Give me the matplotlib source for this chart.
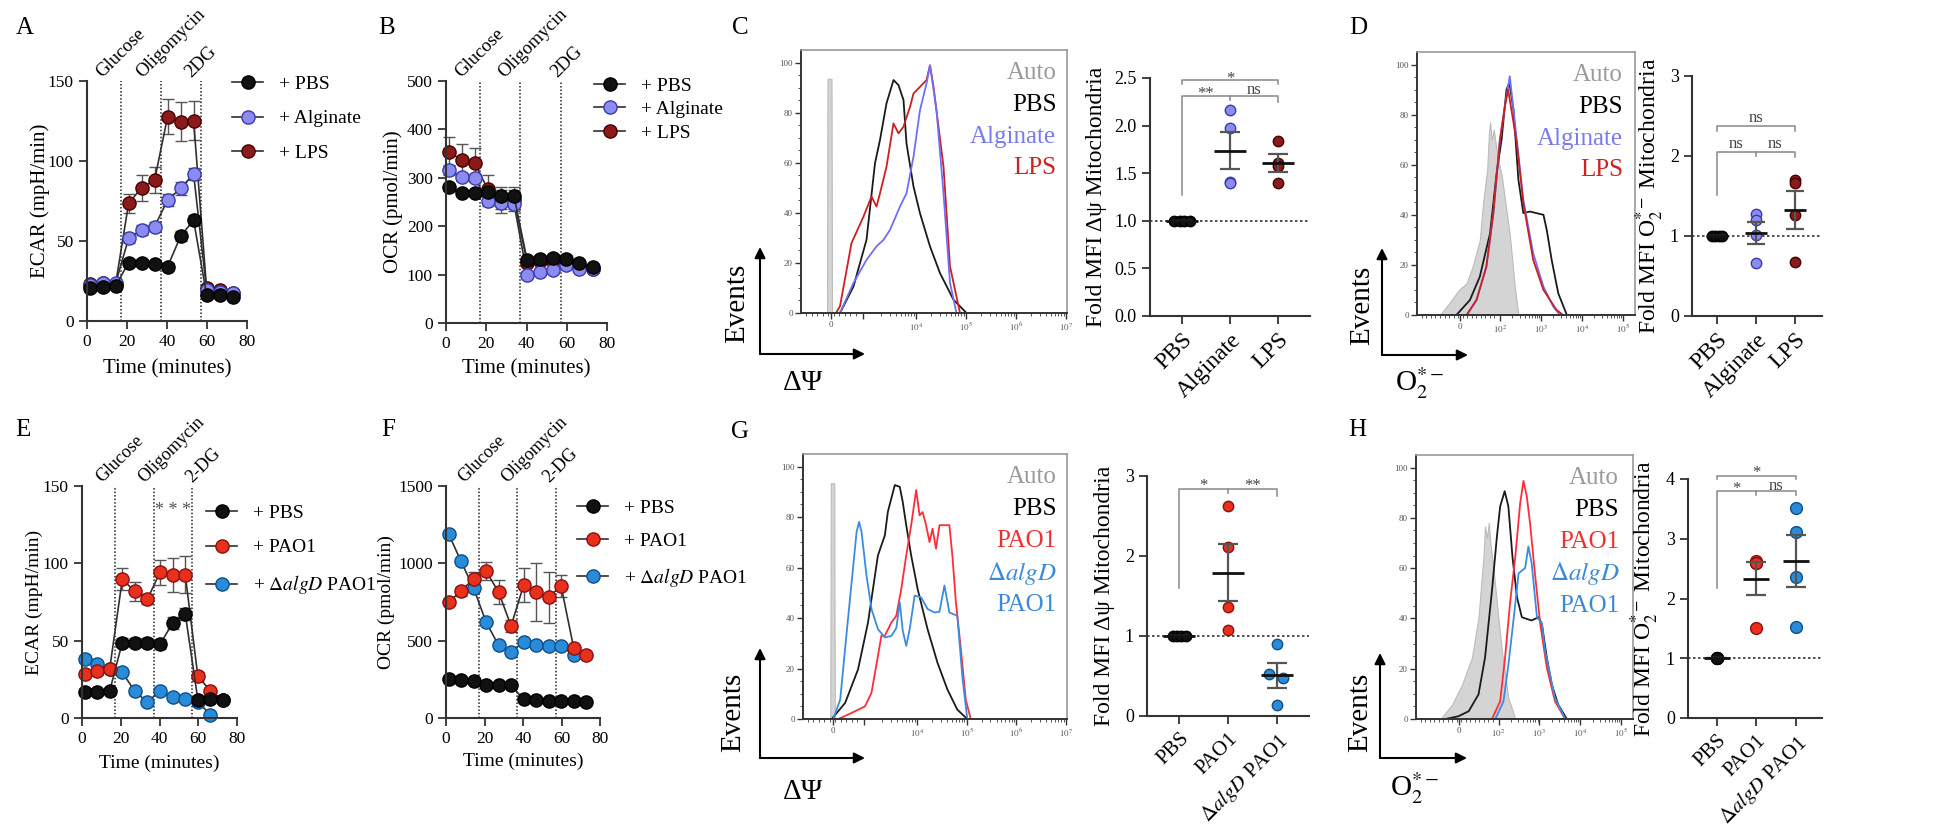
# -*- coding: utf-8 -*-
"""Mitochondrial metabolism figure, panels A-H"""

import numpy as np
import matplotlib
matplotlib.use("Agg")
import matplotlib.pyplot as plt
from matplotlib.lines import Line2D
from matplotlib.patches import FancyArrowPatch

W, H = 1952, 835

# ---------- Seahorse time courses ----------
time_min = [1.3, 7.8, 14.3, 20.8, 27.3, 33.8, 40.3, 46.8, 53.3, 59.8, 66.3, 72.8]
injection_times = [17, 37, 57]
injections_ab = ["Glucose", "Oligomycin", "2DG"]
injections_ef = ["Glucose", "Oligomycin", "2-DG"]

ecar_pbs = [20.4, 21, 21.9, 36.5, 36.5, 35.6, 34, 53, 63, 16.3, 16.3, 15.2]
ecar_pbs_err = [2, 2, 2, 2, 2, 2, 2, 3, 3, 2, 2, 2]
ecar_alg = [22.5, 23.5, 23.5, 51.7, 56.9, 59, 75.6, 82.9, 91.9, 19.4, 18.3, 17.3]
ecar_alg_err = [2, 2, 2, 3, 3, 3, 4, 4, 4, 2, 2, 2]
ecar_lps = [23, 23.5, 23, 73.5, 83.3, 88.1, 127.7, 124.6, 125.2, 20.4, 19.4, 17.3]
ecar_lps_err = [2, 2, 2, 6, 8, 8, 11, 12, 12, 2, 2, 2]

ocr_pbs = [280, 269, 269, 271, 262, 262, 130, 133, 134, 133, 123, 116]
ocr_pbs_err = [8, 6, 6, 10, 20, 20, 8, 8, 8, 8, 6, 6]
ocr_alg = [316, 301, 299, 252, 247, 246, 99, 105, 109, 119, 112, 112]
ocr_alg_err = [10, 8, 8, 10, 20, 15, 6, 6, 6, 6, 6, 6]
ocr_lps = [354, 337, 330, 276, 255, 255, 125, 128, 128, 128, 118, 112]
ocr_lps_err = [30, 32, 32, 30, 20, 20, 8, 8, 8, 8, 6, 6]

ecar2_pbs = [16.8, 16.8, 17.6, 48.8, 48.8, 48.8, 47.8, 61.3, 67.4, 11.8, 12.5, 11.8]
ecar2_pbs_err = [2, 2, 2, 3, 3, 3, 3, 4, 4, 2, 2, 2]
ecar2_pao1 = [28.4, 30.1, 31.8, 89.7, 81.8, 77, 94.3, 92.5, 92.5, 26.9, 17.6, 11.8]
ecar2_pao1_err = [2, 2, 2, 7, 6, 3, 8, 11, 12, 3, 2, 2]
ecar2_dalg = [38.1, 34.9, 31.8, 29.5, 17.2, 10.3, 17.6, 13.6, 12.3, 10.3, 2.2, np.nan]
ecar2_dalg_err = [2, 2, 2, 2, 2, 2, 2, 2, 2, 2, 2, np.nan]

ocr2_pbs = [254, 243, 239, 216, 216, 211, 121, 114, 110, 108, 108, 103]
ocr2_pbs_err = [10, 10, 10, 10, 10, 10, 8, 8, 8, 8, 8, 8]
ocr2_pao1 = [750, 819, 901, 950, 815, 595, 858, 815, 782, 853, 455, 405]
ocr2_pao1_err = [20, 30, 45, 60, 75, 40, 110, 190, 165, 70, 20, 15]
ocr2_dalg = [1192, 1013, 841, 621, 470, 427, 491, 470, 463, 463, 409, np.nan]
ocr2_dalg_err = [20, 20, 20, 15, 15, 15, 15, 15, 15, 15, 15, np.nan]

# ---------- flow histograms (x in decade units of the biexponential axis) ----------
c_auto_x = [2.22, 2.23, 2.31, 2.32]
c_auto_y = [0, 93.5, 93.5, 0]
c_pbs_x = [2.48, 2.75, 3.01, 3.18, 3.28, 3.41, 3.55, 3.65, 3.75, 3.81, 3.95, 4.08, 4.28, 4.48, 4.75, 5.01]
c_pbs_y = [0, 10.6, 29.2, 59.8, 69.1, 83.7, 93, 91, 85, 67.7, 50.5, 39.8, 26.6, 15.9, 5.3, 0]
c_alg_x = [2.48, 2.75, 3.01, 3.21, 3.35, 3.48, 3.68, 3.81, 3.95, 4.08, 4.21, 4.28, 4.41, 4.55, 4.68, 4.81]
c_alg_y = [0, 12, 21.2, 26.6, 29.2, 33.2, 42.5, 47.8, 62.4, 81, 91.6, 98.9, 81, 47.8, 12, 0]
c_lps_x = [2.40, 2.48, 2.71, 2.95, 3.11, 3.21, 3.28, 3.41, 3.55, 3.65, 3.75, 3.88, 3.95, 4.08,
           4.21, 4.28, 4.35, 4.55, 4.68, 4.88]
c_lps_y = [0, 2.7, 27.9, 38.5, 46.5, 42.5, 47.8, 58.4, 75.7, 71.7, 74.4, 82.3, 87.6, 90.3,
           93, 98.9, 90.3, 58.4, 18.6, 0]

d_auto_x = [0.54, 0.78, 1.0, 1.19, 1.35, 1.51, 1.59, 1.69, 1.73, 1.76, 1.80, 1.85, 1.90, 1.96,
            2.04, 2.24, 2.37, 2.45]
d_auto_y = [0, 5, 10, 12.7, 20, 30, 45, 58, 72, 77, 70, 74, 68, 62, 56, 32, 10, 0]
d_pbs_x = [0.94, 1.27, 1.51, 1.76, 1.92, 2.04, 2.16, 2.23, 2.33, 2.45, 2.57, 2.73, 3.06, 3.14,
           3.26, 3.42, 3.63]
d_pbs_y = [0, 6, 15.3, 32.7, 56.7, 70, 90, 92.7, 82, 54, 40.7, 41.3, 40, 34, 22, 8.7, 0]
d_alg_x = [1.19, 1.43, 1.67, 1.84, 2.0, 2.12, 2.24, 2.41, 2.57, 2.81, 3.06, 3.3, 3.46]
d_alg_y = [0, 6, 19.3, 40.7, 70, 83.3, 95.3, 70, 46, 24.7, 11.3, 3.3, 0]
d_lps_x = [1.19, 1.43, 1.67, 1.84, 2.0, 2.12, 2.2, 2.41, 2.57, 2.81, 3.06, 3.38, 3.54]
d_lps_y = [0, 6, 19.3, 40.7, 70, 83.3, 90, 68.7, 44.7, 22, 10, 2, 0]

g_auto_x = [2.25, 2.26, 2.33, 2.34]
g_auto_y = [0, 93.4, 93.4, 0]
g_pbs_x = [2.28, 2.55, 2.81, 3.01, 3.21, 3.35, 3.41, 3.55, 3.65, 3.71, 3.78, 3.88, 4.01, 4.21,
           4.41, 4.61, 4.81, 5.01]
g_pbs_y = [0, 6.4, 19.7, 38.2, 64.8, 72.8, 82.1, 92.7, 92, 86, 76.8, 64.8, 51.5, 35.6, 22.3,
           11.7, 3.7, 0]
g_pao1_x = [2.41, 2.68, 2.95, 3.08, 3.21, 3.28, 3.35, 3.48, 3.58, 3.68, 3.78, 3.88, 3.98, 4.05,
            4.11, 4.18, 4.25, 4.31, 4.38, 4.45, 4.55, 4.65, 4.71, 4.78, 4.88, 4.98, 5.08]
g_pao1_y = [0, 2.4, 5, 10.4, 25, 33, 33, 38.2, 40.9, 51.5, 64.8, 76.8, 90.7, 80.7,
            82, 76.8, 70.1, 75.4, 67.5, 76.8, 76.8, 76.8, 64.8, 46.5, 27.9, 7.7, 0]
g_dalg_x = [2.31, 2.45, 2.58, 2.68, 2.78, 2.83, 2.88, 2.98, 3.08, 3.21, 3.35, 3.48, 3.58, 3.65,
            3.71, 3.78, 3.85, 3.95, 4.08, 4.21, 4.35, 4.45, 4.55, 4.65, 4.81, 4.91, 5.01]
g_dalg_y = [0, 7.7, 34.3, 54.2, 74.1, 78.1, 74.1, 56.8, 43.6, 35.6, 32.3, 32.9, 36, 46.2,
            35, 29, 35.6, 48.9, 48.2, 43.6, 42.2, 42.5, 52.9, 42.2, 40.9, 17, 0]

h_auto_x = [0.58, 0.86, 1.11, 1.35, 1.51, 1.63, 1.67, 1.72, 1.76, 1.80, 1.88, 1.96, 2.08, 2.24, 2.41]
h_auto_y = [0, 5.7, 13.8, 24.5, 40.5, 64.6, 76.6, 72, 78, 70, 59.2, 45.9, 27.1, 8.4, 0]
h_pbs_x = [0.7, 1.02, 1.27, 1.51, 1.67, 1.84, 1.96, 2.04, 2.15, 2.24, 2.34, 2.45, 2.57, 2.69,
           2.81, 2.98, 3.06, 3.18, 3.3, 3.46, 3.67]
h_pbs_y = [0, 1.1, 3.1, 9.8, 24.5, 51.2, 72.6, 84.6, 90.6, 84.6, 64.6, 48.5, 40.5, 39.8,
           39.2, 40.5, 37.8, 24.5, 13.8, 5.7, 0]
h_pao1_x = [1.84, 2.04, 2.16, 2.28, 2.41, 2.53, 2.61, 2.69, 2.77, 2.89, 3.02, 3.18, 3.38, 3.63]
h_pao1_y = [0, 7.1, 24.5, 45.9, 64.6, 86, 94.7, 88.6, 78, 57.9, 37.8, 20.5, 7.1, 0]
h_dalg_x = [1.92, 2.12, 2.24, 2.37, 2.49, 2.57, 2.65, 2.73, 2.81, 2.94, 3.06, 3.14, 3.38, 3.63]
h_dalg_y = [0, 7, 21.4, 40, 57.9, 59, 60, 68.6, 62, 40.5, 38, 27, 8.4, 0]

# ---------- fold MFI dot plots ----------
cats_lps = ["PBS", "Alginate", "LPS"]
cats_pao = ["PBS", "PAO1", r"$\mathit{\Delta algD}$ PAO1"]
c_vals = [[1, 1, 1, 1], [2.16, 1.97, 1.41, 1.40], [1.84, 1.61, 1.58, 1.40]]
d_vals = [[1, 1, 1, 1], [1.28, 1.20, 1.01, 0.66], [1.70, 1.66, 1.26, 0.68]]
g_vals = [[1, 1, 1, 1], [2.63, 2.11, 1.36, 1.07], [0.90, 0.52, 0.47, 0.14]]
h_vals = [[1, 1, 1, 1], [2.62, 2.60, 2.60, 1.50], [3.51, 3.12, 2.36, 1.53]]

# colours
BLACK = ("#111111", "#000000")
ALG = ("#8c8cf0", "#3a3ab0")
LPS = ("#8b1a1a", "#4a0000")
PAO = ("#e8301c", "#8b1010")
DALG = ("#2a8bd8", "#0e4f8a")


def rect(l, t, r, b):
    """pixel box -> figure fraction"""
    return [l / W, 1 - b / H, (r - l) / W, (b - t) / H]


def setup_style():
    plt.rcParams["font.family"] = ["Liberation Serif", "DejaVu Serif"]
    plt.rcParams["mathtext.fontset"] = "stix"
    plt.rcParams["axes.linewidth"] = 1.4
    plt.rcParams["xtick.major.width"] = 1.3
    plt.rcParams["ytick.major.width"] = 1.3


def prism_axes(ax):
    for s in ["top", "right"]:
        ax.spines[s].set_visible(False)
    for s in ["left", "bottom"]:
        ax.spines[s].set_color("#333333")
        ax.spines[s].set_linewidth(1.5)
    ax.tick_params(direction="out", length=6, color="#333333")


def timecourse(fig, ax, groups, ymax, ystep, ylabel, ylab_x, xlab_y, inj, inj_dx,
               leg_xy, leg_space, tick_fs=12.5, lab_fs=15, inj_fs=13.5):
    for name, vals, errs, col in reversed(groups):
        ax.errorbar(time_min, vals, yerr=errs, color="#303030", lw=1.2, ecolor="#555555",
                    elinewidth=1.0, capsize=4, capthick=1.0, marker="o", ms=9.5,
                    mfc=col[0], mec=col[1], mew=1.0, clip_on=False)
    ax.vlines(injection_times, 0, ymax, colors="#222222", linestyles=(0, (1, 1.3)), lw=1.1)
    for x, lab, dx in zip(injection_times, inj, inj_dx):
        ax.text(x + dx, ymax, lab, rotation=45, ha="center", va="bottom", fontsize=inj_fs)
    ax.set_xlim(0, 80)
    ax.set_ylim(0, ymax)
    ax.set_xticks(range(0, 81, 20))
    ax.set_yticks(np.arange(0, ymax + 1, ystep))
    ax.tick_params(labelsize=tick_fs)
    prism_axes(ax)
    ax.set_ylabel(ylabel, fontsize=lab_fs)
    ax.yaxis.set_label_coords(ylab_x, 0.5)
    ax.set_xlabel("Time (minutes)", fontsize=lab_fs)
    ax.xaxis.set_label_coords(0.5, xlab_y)
    handles = [Line2D([0], [0], color="#303030", lw=1.2, marker="o", ms=9.5,
                      mfc=c[0], mec=c[1]) for _, _, _, c in groups]
    labels = ["+ " + g[0] for g in groups]
    ax.legend(handles, labels, loc="upper left", bbox_to_anchor=(leg_xy[0] / W, 1 - leg_xy[1] / H),
              bbox_transform=fig.transFigure, frameon=False, borderpad=0, borderaxespad=0,
              handlelength=1.6, handletextpad=0.8, labelspacing=leg_space, fontsize=14)


def histogram(ax, auto, curves, xlim, majors, major_labels, minors, legend, leg_x):
    ax.fill_between(auto[0], auto[1], color="#d4d4d4", ec="#bbbbbb", lw=0.8, zorder=1)
    for x, y, c in curves:
        ax.plot(x, y, color=c, lw=1.3, zorder=2)
    ax.set_xlim(xlim)
    ax.set_ylim(0, 105)
    ax.set_yticks(range(0, 101, 20))
    ax.set_yticks(range(0, 101, 5), minor=True)
    ax.set_xticks(majors)
    ax.set_xticklabels(major_labels)
    ax.set_xticks(minors, minor=True)
    ax.tick_params(which="major", length=4, width=1.0, labelsize=6.5, labelcolor="#555555",
                   color="#333333", pad=2)
    ax.tick_params(which="minor", length=2.2, width=0.7, color="#555555")
    for s in ["left", "bottom"]:
        ax.spines[s].set_color("#333333")
        ax.spines[s].set_linewidth(1.4)
    for s in ["top", "right"]:
        ax.spines[s].set_color("#999999")
        ax.spines[s].set_linewidth(1.2)
    for i, (txt, c) in enumerate(legend):
        ax.text(leg_x, 0.913 - i * 0.121, txt, transform=ax.transAxes, ha="right", va="center",
                color=c, fontsize=18)


def dotplot(ax, cats, vals, cols, jitter, ymax, yticks, ytick_labels, ylabel, ylab_x, xlim,
            brackets, marks, ms=7.5, half=0.33, xfs=17):
    ax.axhline(1, color="#333333", lw=1.2, ls=(0, (1.5, 1.5)), zorder=1, clip_on=False)
    for i, (v, c, jit) in enumerate(zip(vals, cols, jitter)):
        v = np.asarray(v, float)
        m = v.mean()
        sem = v.std(ddof=1) / np.sqrt(len(v))
        ax.plot(i + np.asarray(jit), v, "o", ms=ms, mfc=c[0], mec=c[1], mew=1.0, zorder=3,
                clip_on=False)
        ax.errorbar(i, m, yerr=sem, color="#555555", lw=1.6, capsize=half * 22, capthick=1.6,
                    zorder=4, clip_on=False)
        ax.hlines(m, i - half, i + half, color="#111111", lw=2.0, zorder=5)
    for x0, x2, y, l_leg, r_leg, mid in brackets:
        ax.plot([x0, x0, x2, x2], [l_leg, y, y, r_leg], color="#888888", lw=1.1, clip_on=False)
        if mid is not None:
            ax.plot([1, 1], [y, mid], color="#888888", lw=1.1, clip_on=False)
    for x, y, s in marks:
        ax.text(x, y, s, ha="center", va="baseline", fontsize=12, color="#444444")
    ax.set_xlim(xlim)
    ax.set_ylim(0, ymax)
    ax.set_xticks(range(len(cats)))
    ax.set_xticklabels(cats, rotation=45, ha="right", rotation_mode="anchor", fontsize=xfs)
    ax.set_yticks(yticks)
    ax.set_yticklabels(ytick_labels, fontsize=13)
    prism_axes(ax)
    ax.set_ylabel(ylabel, fontsize=17)
    ax.yaxis.set_label_coords(ylab_x, 0.5)


def flow_labels(fig, corner, top, right, events_xy, xlabel, xlabel_xy):
    x0, y0 = corner
    for end in [(x0, top), (right, y0)]:
        fig.add_artist(FancyArrowPatch((x0 / W, 1 - y0 / H), (end[0] / W, 1 - end[1] / H),
                                       transform=fig.transFigure, arrowstyle="-|>",
                                       mutation_scale=16, lw=1.5, color="black",
                                       shrinkA=0, shrinkB=0))
    fig.text(events_xy[0] / W, 1 - events_xy[1] / H, "Events", rotation=90, ha="center",
             va="center", fontsize=21)
    fig.text(xlabel_xy[0] / W, 1 - xlabel_xy[1] / H, xlabel, ha="center", va="center", fontsize=21)


def main():
    setup_style()
    fig = plt.figure(figsize=(W / 100, H / 100), dpi=100)

    # A / B : alginate & LPS
    ax = fig.add_axes(rect(87, 81, 247, 321))
    timecourse(fig, ax, [("PBS", ecar_pbs, ecar_pbs_err, BLACK),
                         ("Alginate", ecar_alg, ecar_alg_err, ALG),
                         ("LPS", ecar_lps, ecar_lps_err, LPS)],
               150, 50, "ECAR (mpH/min)", -0.23, -0.16, injections_ab, [0, 5, 0],
               (232, 75), 0.88)
    ax = fig.add_axes(rect(446, 81, 607, 323))
    timecourse(fig, ax, [("PBS", ocr_pbs, ocr_pbs_err, BLACK),
                         ("Alginate", ocr_alg, ocr_alg_err, ALG),
                         ("LPS", ocr_lps, ocr_lps_err, LPS)],
               500, 100, "OCR (pmol/min)", -0.267, -0.15, injections_ab, [0, 6, 3],
               (594, 77), 0.3)

    # E / F : PAO1 strains
    ax = fig.add_axes(rect(82, 486, 237, 718))
    timecourse(fig, ax, [("PBS", ecar2_pbs, ecar2_pbs_err, BLACK),
                         ("PAO1", ecar2_pao1, ecar2_pao1_err, PAO),
                         (r"$\mathit{\Delta algD}$ PAO1", ecar2_dalg, ecar2_dalg_err, DALG)],
               150, 50, "ECAR (mpH/min)", -0.25, -0.16,
               injections_ef, [2.5, 9, 6], (206, 504), 0.88, lab_fs=14, inj_fs=13)
    ax.text(47, 131, "* * *", ha="center", va="baseline", fontsize=13, color="#555555")
    ax = fig.add_axes(rect(446, 486, 600, 718))
    timecourse(fig, ax, [("PBS", ocr2_pbs, ocr2_pbs_err, BLACK),
                         ("PAO1", ocr2_pao1, ocr2_pao1_err, PAO),
                         (r"$\mathit{\Delta algD}$ PAO1", ocr2_dalg, ocr2_dalg_err, DALG)],
               1500, 500, "OCR (pmol/min)", -0.33, -0.15, injections_ef, [1.5, 9, 2.6],
               (577, 499), 0.82, lab_fs=14, inj_fs=13)

    # flow histograms
    dec = [d + np.log10(k) for d in range(3, 7) for k in range(2, 10)]
    minors_hi = list(np.arange(1.8, 2.9, 0.11)) + [m for m in dec if m < 7.02]
    majors_hi = [2.3, 2.93, 4, 5, 6, 7]
    labels_hi = ["0", "", r"$10^4$", r"$10^5$", r"$10^6$", r"$10^7$"]
    dec_lo = [d + np.log10(k) for d in range(2, 6) for k in range(2, 10)]
    minors_lo = list(np.arange(0.1, 1.9, 0.11)) + [m for m in dec_lo if m < 5.29]
    majors_lo = [1.02, 2, 3, 4, 5]
    labels_lo = ["0", r"$10^2$", r"$10^3$", r"$10^4$", r"$10^5$"]

    ax = fig.add_axes(rect(801, 50, 1067, 313))
    histogram(ax, (c_auto_x, c_auto_y),
              [(c_pbs_x, c_pbs_y, "#1a1a1a"), (c_lps_x, c_lps_y, "#cc2020"),
               (c_alg_x, c_alg_y, "#6f6ff5")],
              (1.70, 7.02), majors_hi, labels_hi, minors_hi,
              [("Auto", "#9a9a9a"), ("PBS", "#000000"), ("Alginate", "#7b7bf0"),
               ("LPS", "#cc2222")], 0.96)
    ax = fig.add_axes(rect(1417, 52, 1635, 315))
    histogram(ax, (d_auto_x, d_auto_y),
              [(d_pbs_x, d_pbs_y, "#1a1a1a"), (d_alg_x, d_alg_y, "#6f6ff5"),
               (d_lps_x, d_lps_y, "#cc2020")],
              (-0.02, 5.29), majors_lo, labels_lo, minors_lo,
              [("Auto", "#9a9a9a"), ("PBS", "#000000"), ("Alginate", "#7b7bf0"),
               ("LPS", "#cc2222")], 0.945)
    ax = fig.add_axes(rect(803, 454, 1067, 719))
    histogram(ax, (g_auto_x, g_auto_y),
              [(g_pbs_x, g_pbs_y, "#1a1a1a"), (g_pao1_x, g_pao1_y, "#ff2d3a"),
               (g_dalg_x, g_dalg_y, "#3b8be0")],
              (1.70, 7.02), majors_hi, labels_hi, minors_hi,
              [("Auto", "#9a9a9a"), ("PBS", "#000000"), ("PAO1", "#f03030"),
               (r"$\mathit{\Delta algD}$", "#3a8ad8"), ("PAO1", "#3a8ad8")], 0.96)
    ax = fig.add_axes(rect(1416, 455, 1633, 719))
    histogram(ax, (h_auto_x, h_auto_y),
              [(h_pbs_x, h_pbs_y, "#1a1a1a"), (h_pao1_x, h_pao1_y, "#ff2d3a"),
               (h_dalg_x, h_dalg_y, "#3b8be0")],
              (-0.02, 5.29), majors_lo, labels_lo, minors_lo,
              [("Auto", "#9a9a9a"), ("PBS", "#000000"), ("PAO1", "#f03030"),
               (r"$\mathit{\Delta algD}$", "#3a8ad8"), ("PAO1", "#3a8ad8")], 0.936)

    flow_labels(fig, (760, 354), 247, 865, (737, 303), "ΔΨ", (803, 383))
    flow_labels(fig, (1382, 355), 248, 1468, (1362, 305), r"O$_2^{*-}$", (1420, 383))
    flow_labels(fig, (760, 758), 648, 865, (733, 712), "ΔΨ", (803, 792))
    flow_labels(fig, (1380, 758), 653, 1467, (1360, 712), r"O$_2^{*-}$", (1415, 788))

    # fold MFI dot plots
    ax = fig.add_axes(rect(1150, 78, 1310, 316))
    dotplot(ax, cats_lps, c_vals, [BLACK, ALG, LPS],
            [[-0.16, -0.05, 0.05, 0.16], [0] * 4, [0] * 4],
            2.5, np.arange(0, 2.51, 0.5), ["0.0", "0.5", "1.0", "1.5", "2.0", "2.5"],
            "Fold MFI Δψ Mitochondria", -0.27, (-0.67, 2.67),
            [(0, 2, 2.48, 2.44, 2.44, None), (0, 2, 2.31, 1.27, 2.25, 2.27)],
            [(1, 2.45, "*"), (0.5, 2.29, "**"), (1.5, 2.33, "ns")])
    ax = fig.add_axes(rect(1692, 76, 1822, 316))
    dotplot(ax, cats_lps, d_vals, [BLACK, ALG, LPS],
            [[-0.14, -0.05, 0.05, 0.14], [0] * 4, [0] * 4],
            3, [0, 1, 2, 3], ["0", "1", "2", "3"],
            r"Fold MFI O$_2^{*-}$ Mitochondria", -0.2, (-0.64, 2.69),
            [(0, 2, 2.37, 2.31, 2.31, None), (0, 2, 2.05, 1.51, 1.99, 2.0)],
            [(1, 2.43, "ns"), (0.5, 2.10, "ns"), (1.5, 2.10, "ns")], half=0.28)
    ax = fig.add_axes(rect(1147, 476, 1309, 716))
    dotplot(ax, cats_pao, g_vals, [BLACK, PAO, DALG],
            [[-0.13, -0.04, 0.04, 0.13], [0] * 4, [0, -0.17, 0.12, 0]],
            3, [0, 1, 2, 3], ["0", "1", "2", "3"],
            "Fold MFI Δψ Mitochondria", -0.2, (-0.66, 2.65),
            [(0, 2, 2.84, 1.6, 2.75, 2.79)],
            [(0.5, 2.82, "*"), (1.5, 2.82, "**")], xfs=15)
    ax = fig.add_axes(rect(1688, 479, 1822, 718))
    dotplot(ax, cats_pao, h_vals, [BLACK, PAO, DALG],
            [[0] * 4, [0] * 4, [0] * 4],
            4, [0, 1, 2, 3, 4], ["0", "1", "2", "3", "4"],
            r"Fold MFI O$_2^{*-}$ Mitochondria", -0.2, (-0.73, 2.66),
            [(0, 2, 4.05, 4.0, 4.0, None), (0, 2, 3.8, 2.17, 3.74, 3.74)],
            [(1, 4.04, "*"), (0.5, 3.76, "*"), (1.5, 3.82, "ns")], ms=8.5, xfs=15)

    # panel letters
    for lab, x, y in [("A", 25, 28), ("B", 387, 28), ("C", 740, 28), ("D", 1358, 28),
                      ("E", 23, 430), ("F", 388, 430), ("G", 740, 432), ("H", 1357, 430)]:
        fig.text(x / W, 1 - y / H, lab, ha="center", va="center", fontsize=18)

    fig.savefig("out.png", dpi=100)


if __name__ == "__main__":
    main()
